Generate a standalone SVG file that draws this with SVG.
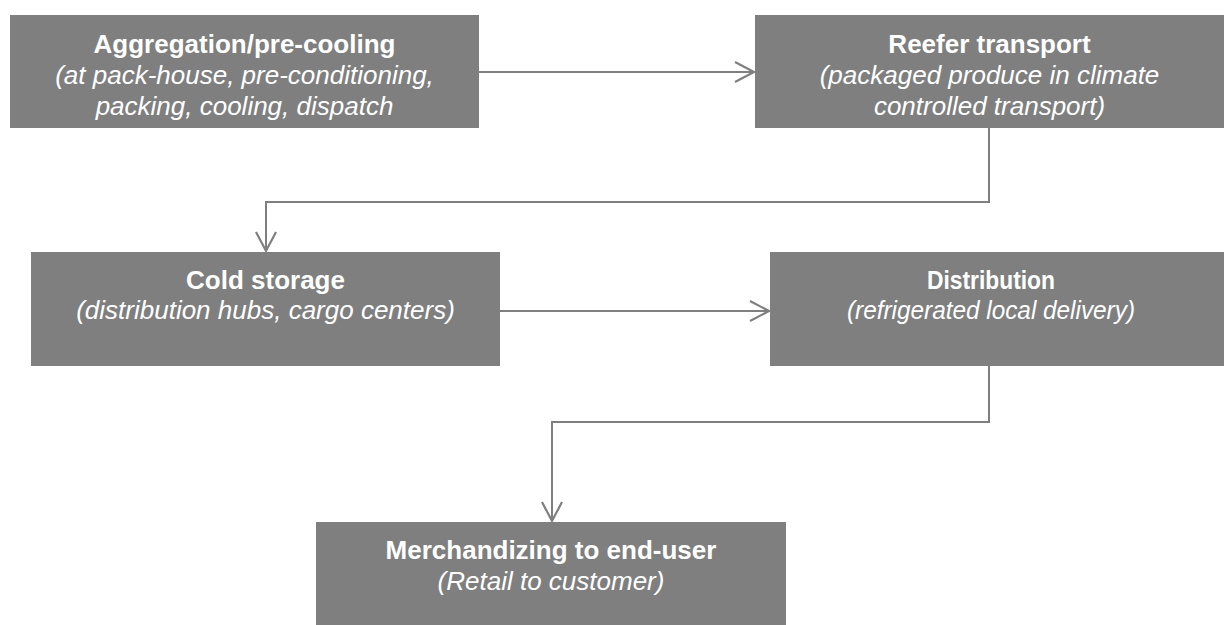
<svg xmlns="http://www.w3.org/2000/svg" width="1224" height="625" viewBox="0 0 1224 625">
  <style>
    .box { fill: #7f7f7f; }
    .t { font-family: "Liberation Sans", Arial, sans-serif; font-size: 26px; fill: #ffffff; text-anchor: middle; }
    .b { font-weight: bold; }
    .i { font-style: italic; }
    .conn { fill: none; stroke: #7f7f7f; stroke-width: 2; marker-end: url(#arr); }
  </style>
  <defs>
    <marker id="arr" markerUnits="userSpaceOnUse" markerWidth="24" markerHeight="24" refX="20" refY="11" orient="auto" viewBox="0 0 24 24">
      <path d="M1,1 L20,11 L1,21" fill="none" stroke="#7f7f7f" stroke-width="2.2"/>
    </marker>
  </defs>

  <g id="connectors">
    <path class="conn" d="M479,72 H754"/>
    <path class="conn" d="M989,128 V202 H266 V251"/>
    <path class="conn" d="M500,311 H769"/>
    <path class="conn" d="M989,366 V422 H552 V521"/>
  </g>

  <g id="node-aggregation">
    <rect class="box" x="10" y="15" width="469" height="113"/>
    <text class="t b" x="244.5" y="53">Aggregation/pre-cooling</text>
    <text class="t i" x="244.5" y="84">(at pack-house, pre-conditioning,</text>
    <text class="t i" x="244.5" y="115">packing, cooling, dispatch</text>
  </g>

  <g id="node-reefer">
    <rect class="box" x="755" y="15" width="469" height="113"/>
    <text class="t b" x="989.5" y="53">Reefer transport</text>
    <text class="t i" x="989.5" y="84">(packaged produce in climate</text>
    <text class="t i" x="989.5" y="115">controlled transport)</text>
  </g>

  <g id="node-cold-storage">
    <rect class="box" x="31" y="252" width="469" height="114"/>
    <text class="t b" x="265.5" y="289">Cold storage</text>
    <text class="t i" x="265.5" y="319">(distribution hubs, cargo centers)</text>
  </g>

  <g id="node-distribution">
    <rect class="box" x="770" y="252" width="454" height="114"/>
    <text class="t b" x="991" y="289" textLength="128" lengthAdjust="spacingAndGlyphs">Distribution</text>
    <text class="t i" x="991" y="319" textLength="288" lengthAdjust="spacingAndGlyphs">(refrigerated local delivery)</text>
  </g>

  <g id="node-merchandizing">
    <rect class="box" x="316" y="522" width="470" height="103"/>
    <text class="t b" x="551" y="559">Merchandizing to end-user</text>
    <text class="t i" x="551" y="590">(Retail to customer)</text>
  </g>
</svg>
